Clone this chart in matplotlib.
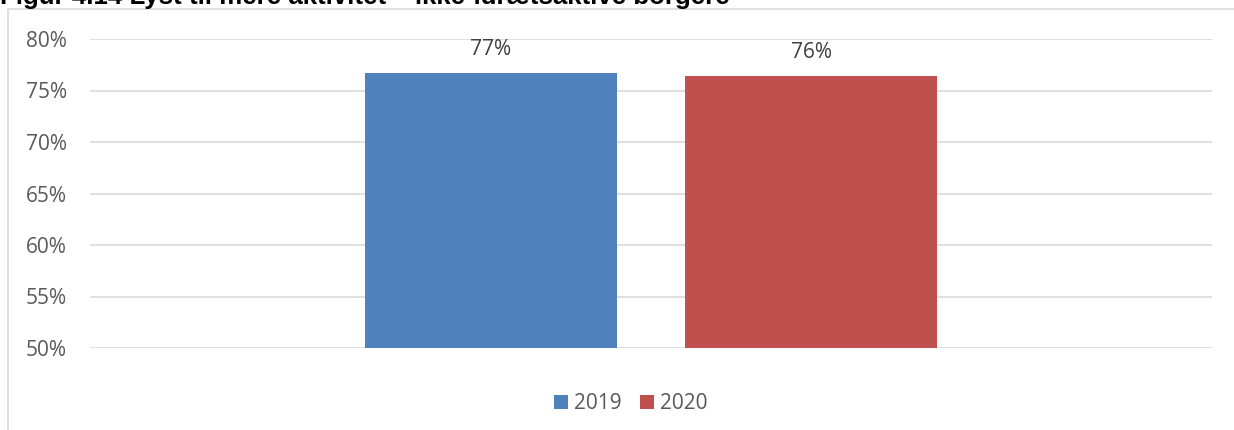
import matplotlib
matplotlib.use("Agg")
import matplotlib.pyplot as plt
from matplotlib.patches import Rectangle
import numpy as np

plt.rcParams['font.family'] = ['Open Sans', 'DejaVu Sans']

title = "Figur 4.14 Lyst til mere aktivitet – ikke-idrætsaktive borgere"
series = ["2019", "2020"]
values = [76.7, 76.4]
labels = ["77%", "76%"]
colors = ["#4F81BD", "#C0504D"]
yticks = [50, 55, 60, 65, 70, 75, 80]

W, H = 1234, 430
fig = plt.figure(figsize=(W / 100, H / 100), dpi=100)

# outer chart border
fig.patches.append(Rectangle((8 / W, -0.1), 1.2, 1 - 9 / H + 0.1, transform=fig.transFigure,
                             fill=False, edgecolor="#D9D9D9", linewidth=1.2))

fig.text(0 / W, 1 - 4 / H, title, fontsize=18.6, fontweight="bold", family=['Liberation Sans', 'DejaVu Sans'],
         ha="left", va="baseline", color="black")

left, right, top, bottom = 90, 1212, 39, 348
ax = fig.add_axes([left / W, 1 - bottom / H, (right - left) / W, (bottom - top) / H])

width = 252 / 1122
gap = 68 / 1122
offsets = np.array([-(width + gap) / 2, (width + gap) / 2])
for i, (s, v, lab, c) in enumerate(zip(series, values, labels, colors)):
    ax.bar(0.5 + offsets[i], v - 50, bottom=50, width=width, color=c, label=s, zorder=3)
    ax.text(0.5 + offsets[i], v + 1.3, lab, ha="center", va="bottom", fontsize=15, color="#404040")

ax.set_xlim(0, 1)
ax.set_ylim(50, 80)
ax.set_yticks(yticks)
ax.set_yticklabels([f"{t}%" for t in yticks], fontsize=15, color="#595959")
ax.set_xticks([])
ax.tick_params(axis="y", length=0, pad=16.5)
ax.grid(axis="y", color="#D9D9D9", linewidth=1.2, zorder=0)
for sp in ax.spines.values():
    sp.set_visible(False)

ax.legend(loc="upper center", bbox_to_anchor=(0.482, -0.085), ncol=2, frameon=False,
          fontsize=15, handlelength=0.65, handleheight=0.65, handletextpad=0.3,
          columnspacing=0.9, labelcolor="#595959")

fig.savefig("out.png", dpi=100)
